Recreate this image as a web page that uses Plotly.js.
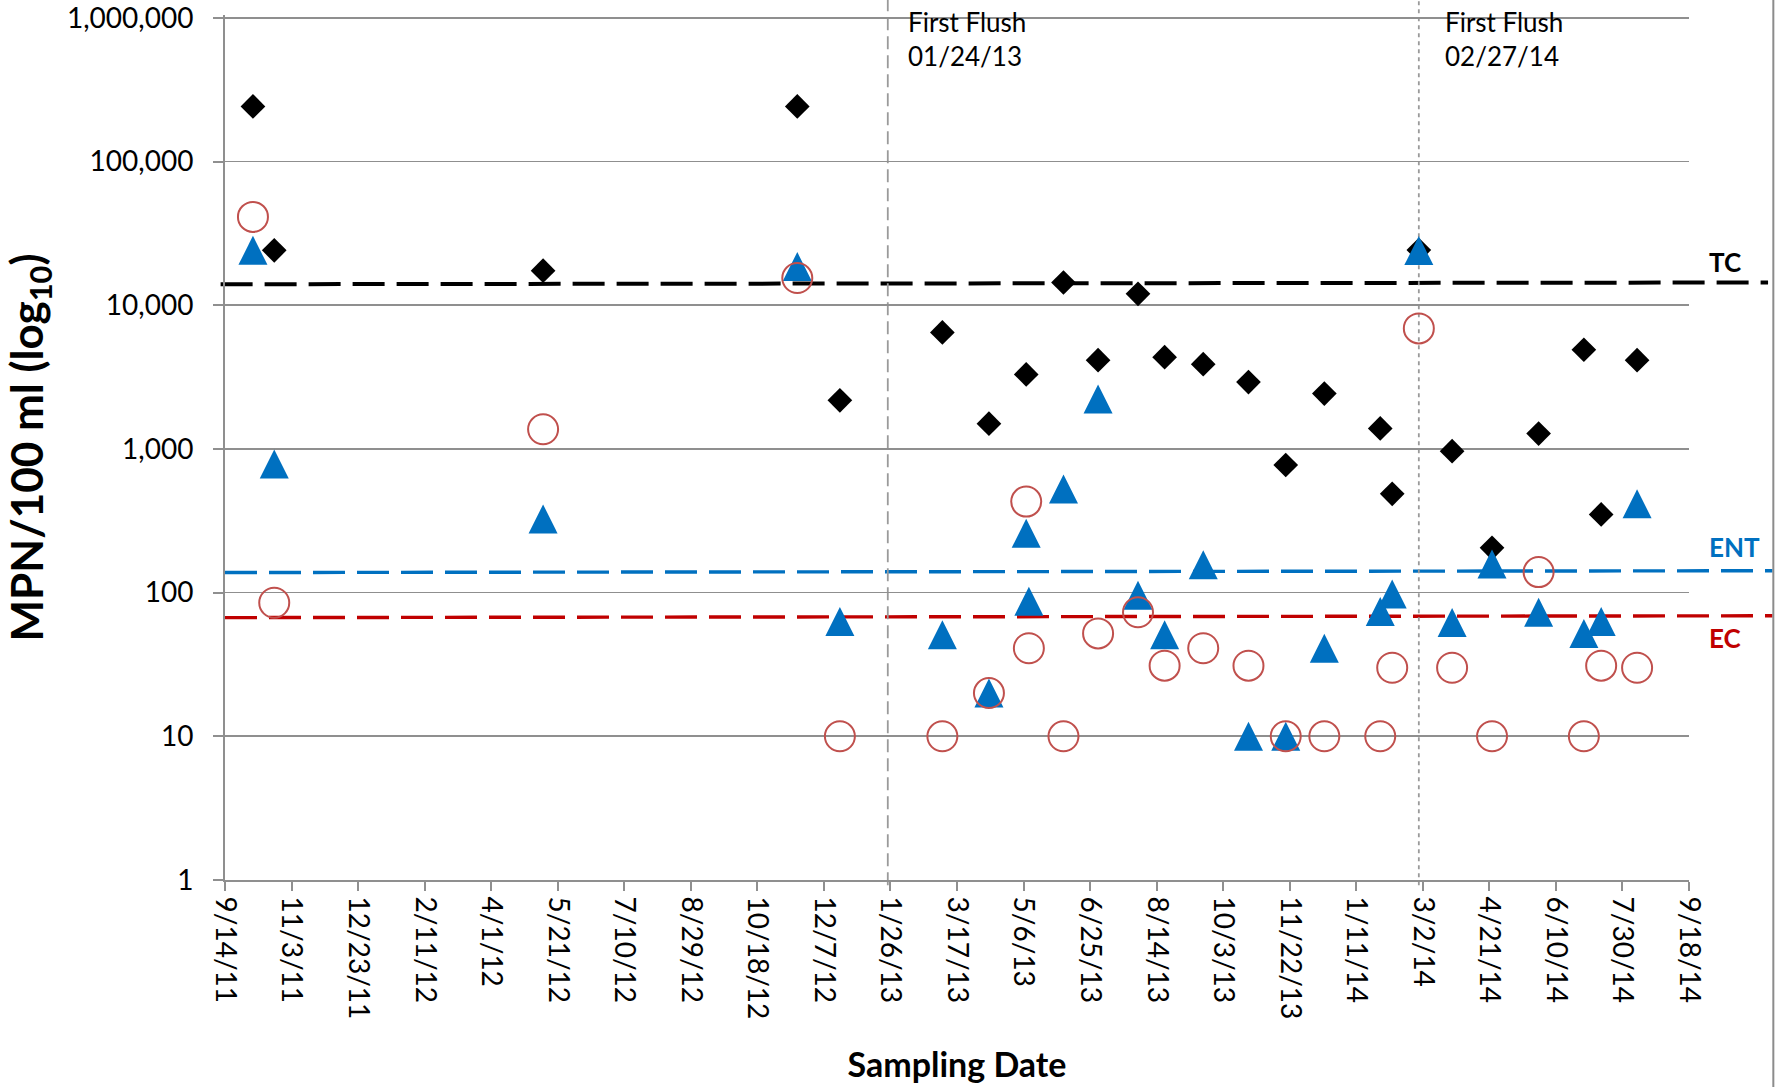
<!DOCTYPE html>
<html>
<head>
<meta charset="utf-8">
<script src="https://cdn.plot.ly/plotly-3.0.1.min.js"></script>
<style>
  html, body { margin: 0; padding: 0; background: #ffffff; }
  #chart { width: 1783px; height: 1087px; }
</style>
</head>
<body>
<div id="chart"></div>
<script>
// ---- data ----
var sampleDates = [
  '2011-10-05', '2011-10-21', '2012-05-10', '2012-11-17', '2012-12-19',
  '2013-03-06', '2013-04-10', '2013-05-08', '2013-05-10', '2013-06-05',
  '2013-07-01', '2013-07-31', '2013-08-20', '2013-09-18', '2013-10-22',
  '2013-11-19', '2013-12-18', '2014-01-29', '2014-02-07', '2014-02-27',
  '2014-03-24', '2014-04-23', '2014-05-28', '2014-07-01', '2014-07-14',
  '2014-08-10'
];
var tcValues = [
  241960, 24100, 17400, 241960, 2180,
  6470, 1500, 3300, null, 14400,
  4150, 12000, 4350, 3890, 2920,
  773, 2430, 1390, 487, 24196,
  964, 205, 1280, 4900, 350,
  4150
];
var entValues = [
  24100, 787, 326, 18600, 63,
  51, 20, 259, 87, 527,
  2230, 96, 51, 156, 10,
  10, 41, 74, 98, 24000,
  62, 158, 73, 52, 63,
  415
];
var ecValues = [
  41200, 85, 1370, 15460, 10,
  10, 20, 430, 41, 10,
  52, 73, 31, 41, 31,
  10, 10, 10, 30, 6900,
  30, 10, 139, 10, 31,
  30
];
// threshold lines (value at left end, value at right end)
var tcLine = [14000, 14400];
var entLine = [138, 142];
var ecLine = [67, 69];
var thresholdNames = ['TC', 'ENT', 'EC'];

var flushDates = ['2013-01-24', '2014-02-27'];
var flushLabels = ['First Flush<br>01/24/13', 'First Flush<br>02/27/14'];

var xTickDates = [
  '2011-09-14', '2011-11-03', '2011-12-23', '2012-02-11', '2012-04-01',
  '2012-05-21', '2012-07-10', '2012-08-29', '2012-10-18', '2012-12-07',
  '2013-01-26', '2013-03-17', '2013-05-06', '2013-06-25', '2013-08-14',
  '2013-10-03', '2013-11-22', '2014-01-11', '2014-03-02', '2014-04-21',
  '2014-06-10', '2014-07-30', '2014-09-18'
];
var xTickText = [
  '9/14/11', '11/3/11', '12/23/11', '2/11/12', '4/1/12',
  '5/21/12', '7/10/12', '8/29/12', '10/18/12', '12/7/12',
  '1/26/13', '3/17/13', '5/6/13', '6/25/13', '8/14/13',
  '10/3/13', '11/22/13', '1/11/14', '3/2/14', '4/21/14',
  '6/10/14', '7/30/14', '9/18/14'
];
var yTickVals = [1, 10, 100, 1000, 10000, 100000, 1000000];
var yTickText = ['1', '10', '100', '1,000', '10,000', '100,000', '1,000,000'];

// ---- styling ----
var FONT = 'Lato, "Open Sans", "DejaVu Sans", sans-serif';
var GRID = '#8f8f8f';
var TC_COLOR = '#000000';
var ENT_COLOR = '#0070C0';
var EC_LINE_COLOR = '#C00000';
var EC_MARK_COLOR = '#C0504D';

var traces = [
  {
    type: 'scatter', mode: 'markers', name: 'TC',
    x: sampleDates, y: tcValues,
    marker: { symbol: 'diamond', size: 19, color: TC_COLOR, line: { width: 0 } },
    cliponaxis: false
  },
  {
    type: 'scatter', mode: 'markers', name: 'ENT',
    x: sampleDates, y: entValues,
    marker: { symbol: 'arrow-down', angle: 180, standoff: 14.5, size: 29, color: ENT_COLOR, line: { width: 0 } },
    cliponaxis: false
  },
  {
    type: 'scatter', mode: 'markers', name: 'EC',
    x: sampleDates, y: ecValues,
    marker: { symbol: 'circle-open', size: 30, color: EC_MARK_COLOR, line: { width: 2, color: EC_MARK_COLOR } },
    cliponaxis: false
  }
];

var lineDefs = [
  { v: tcLine, color: TC_COLOR, width: 4, x0: -0.003, x1: 1.054 },
  { v: entLine, color: ENT_COLOR, width: 3.4, x0: 0, x1: 1.057 },
  { v: ecLine, color: EC_LINE_COLOR, width: 3.4, x0: 0, x1: 1.057 }
];

var shapes = [];
lineDefs.forEach(function (d) {
  shapes.push({
    type: 'line', layer: 'between', xref: 'paper', yref: 'y',
    x0: d.x0, x1: d.x1, y0: d.v[0], y1: d.v[1],
    line: { color: d.color, width: d.width, dash: '32px,12px' }
  });
});
var flushDash = ['13px,6px', '4px,4px'];
flushDates.forEach(function (dt, i) {
  shapes.push({
    type: 'line', layer: 'between', xref: 'x', yref: 'paper',
    x0: dt, x1: dt, y0: -0.006, y1: 1.0175,
    line: { color: '#9a9a9a', width: 1.8, dash: flushDash[i] }
  });
});
// chart-area right border
shapes.push({
  type: 'line', xref: 'paper', yref: 'paper',
  x0: 1.0576, x1: 1.0576, y0: -0.25, y1: 1.03,
  line: { color: '#8c8c8c', width: 2 }
});

var flushShift = [18, 24];
var annotations = flushDates.map(function (dt, i) {
  return {
    xref: 'x', yref: 'paper', x: dt, y: 1, xanchor: 'left', yanchor: 'top',
    xshift: flushShift[i], yshift: 11, align: 'left', showarrow: false,
    text: flushLabels[i],
    font: { family: FONT, size: 26, color: '#000000' }
  };
});
var labelY = [0.7145, 0.3847, 0.2798];
var labelColors = [TC_COLOR, ENT_COLOR, EC_LINE_COLOR];
thresholdNames.forEach(function (nm, i) {
  annotations.push({
    xref: 'paper', yref: 'paper', x: 1.0125, y: labelY[i],
    xanchor: 'left', yanchor: 'middle', showarrow: false,
    text: nm,
    font: { family: FONT, size: 26, color: labelColors[i], weight: 'bold' }
  });
});

var layout = {
  width: 1783, height: 1087,
  margin: { l: 225, r: 94, t: 15.1, b: 207, pad: 0 },
  paper_bgcolor: '#ffffff', plot_bgcolor: '#ffffff',
  showlegend: false,
  xaxis: {
    type: 'date',
    range: [xTickDates[0], xTickDates[xTickDates.length - 1]],
    tickmode: 'array', tickvals: xTickDates, ticktext: xTickText,
    tickangle: 90,
    ticks: 'outside', ticklen: 9, tickwidth: 2, tickcolor: GRID,
    showline: true, linecolor: GRID, linewidth: 2,
    showgrid: false, zeroline: false,
    tickfont: { family: FONT, size: 28, color: '#000000' },
    ticklabelstandoff: 0,
    ticklabeloverflow: 'allow',
    automargin: false,
    title: {
      text: 'Sampling Date', standoff: 35,
      font: { family: FONT, size: 34, color: '#000000', weight: 'bold' }
    }
  },
  yaxis: {
    type: 'log', range: [0, 6.02],
    tickmode: 'array', tickvals: yTickVals, ticktext: yTickText,
    ticks: 'outside', ticklen: 10, tickwidth: 2, tickcolor: GRID,
    showline: true, linecolor: GRID, linewidth: 2,
    showgrid: true, gridcolor: GRID, gridwidth: 1.7,
    zeroline: false,
    tickfont: { family: FONT, size: 28, color: '#000000' },
    ticklabelstandoff: 14,
    ticklabeloverflow: 'allow',
    automargin: false,
    title: {
      text: 'MPN/100 ml (log<sub>10</sub>)', standoff: 10,
      font: { family: FONT, size: 44, color: '#000000', weight: 'bold' }
    }
  },
  shapes: shapes,
  annotations: annotations
};

Plotly.newPlot('chart', traces, layout, { displayModeBar: false, staticPlot: true });
</script>
</body>
</html>
